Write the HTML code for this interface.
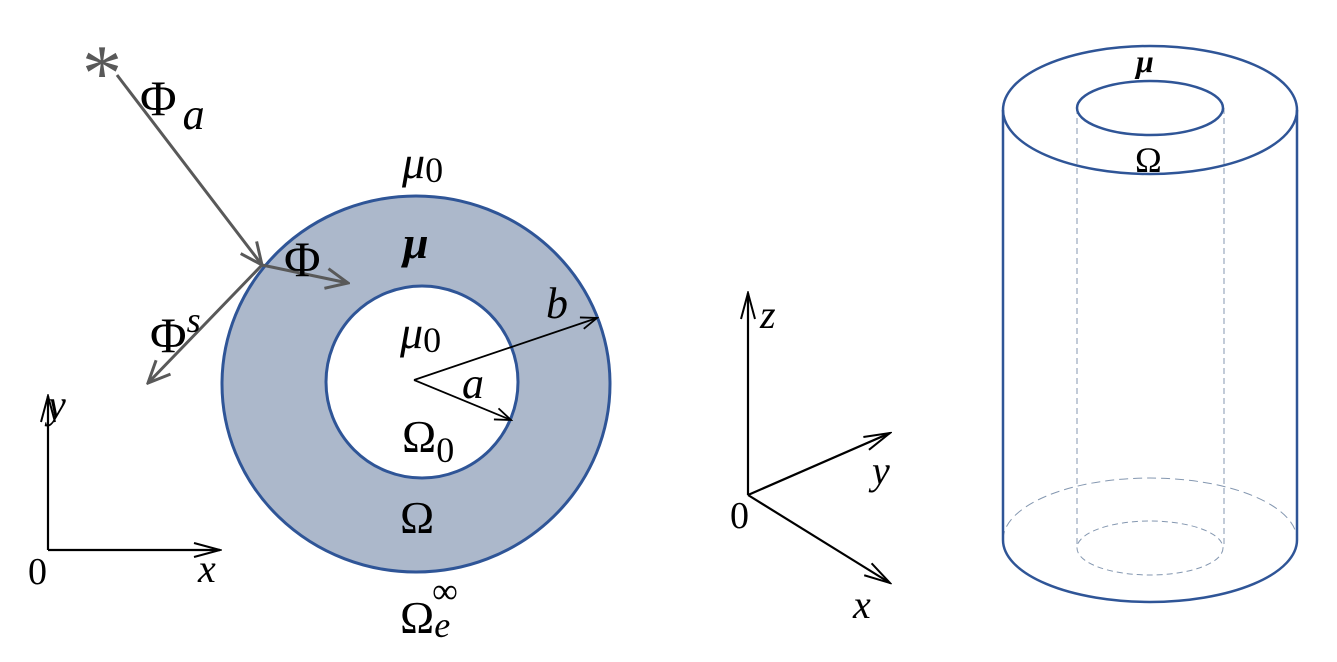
<!DOCTYPE html>
<html><head><meta charset="utf-8"><style>
body{margin:0;background:#fff}
svg text{font-family:"Liberation Serif","DejaVu Serif",serif;fill:#000}
</style></head><body>
<svg width="1337" height="657" viewBox="0 0 1337 657" xmlns="http://www.w3.org/2000/svg">
<defs>
<marker id="ab" markerWidth="30" markerHeight="16" refX="28" refY="8" orient="auto" markerUnits="userSpaceOnUse"><path d="M2,1 L28,8 L2,15" fill="none" stroke="#000" stroke-width="2"/></marker>
<marker id="ab2" markerWidth="20" markerHeight="14" refX="18" refY="7" orient="auto" markerUnits="userSpaceOnUse"><path d="M2,1 L18,7 L2,13" fill="none" stroke="#000" stroke-width="1.8"/></marker>
<marker id="ag" markerWidth="26" markerHeight="24" refX="24" refY="12" orient="auto" markerUnits="userSpaceOnUse"><path d="M2,2 L24,12 L2,22" fill="none" stroke="#595959" stroke-width="3"/></marker>
</defs>
<ellipse cx="416" cy="384" rx="194" ry="188" fill="#acb8cb" stroke="#2f5597" stroke-width="3"/>
<circle cx="422" cy="382" r="96" fill="#fff" stroke="#2f5597" stroke-width="3"/>
<line x1="414" y1="380" x2="597" y2="318" stroke="#000" stroke-width="1.8" marker-end="url(#ab2)"/>
<line x1="414" y1="380" x2="511" y2="420" stroke="#000" stroke-width="1.8" marker-end="url(#ab2)"/>
<text x="82" y="100" font-size="80" style="fill:#595959">*</text>
<line x1="117" y1="75" x2="262" y2="265" stroke="#595959" stroke-width="3" marker-end="url(#ag)"/>
<line x1="262" y1="265" x2="348" y2="283" stroke="#595959" stroke-width="3" marker-end="url(#ag)"/>
<line x1="262" y1="265" x2="148" y2="383" stroke="#595959" stroke-width="3" marker-end="url(#ag)"/>
<text x="140" y="115" font-size="50">Φ<tspan font-style="italic" font-size="44" dy="14" dx="6">a</tspan></text>
<text x="284" y="276" font-size="50">Φ</text>
<text x="150" y="352" font-size="50">Φ<tspan font-style="italic" font-size="36" dy="-20">s</tspan></text>
<text x="402" y="178" font-size="46" font-style="italic">μ<tspan font-style="normal" font-size="36" dy="4">0</tspan></text>
<text x="403" y="258" font-size="46" font-style="italic" font-weight="bold">μ</text>
<text x="400" y="348" font-size="46" font-style="italic">μ<tspan font-style="normal" font-size="36" dy="4">0</tspan></text>
<text x="546" y="318" font-size="44" font-style="italic">b</text>
<text x="462" y="398" font-size="44" font-style="italic">a</text>
<text x="402" y="452" font-size="46">Ω<tspan font-size="36" dy="10">0</tspan></text>
<text x="400" y="533" font-size="46">Ω</text>
<text x="400" y="633" font-size="46">Ω<tspan font-style="italic" font-size="36" dy="4">e</tspan><tspan font-size="36" dx="-18" dy="-34">∞</tspan></text>
<line x1="48" y1="550" x2="48" y2="396" stroke="#000" stroke-width="2.2" marker-end="url(#ab)"/>
<line x1="48" y1="550" x2="220" y2="550" stroke="#000" stroke-width="2.2" marker-end="url(#ab)"/>
<text x="48" y="418" font-size="40" font-style="italic">y</text>
<text x="198" y="582" font-size="40" font-style="italic">x</text>
<text x="28" y="584" font-size="38">0</text>
<line x1="748" y1="495" x2="748" y2="293" stroke="#000" stroke-width="2.2" marker-end="url(#ab)"/>
<line x1="748" y1="495" x2="890" y2="433" stroke="#000" stroke-width="2.2" marker-end="url(#ab)"/>
<line x1="748" y1="495" x2="890" y2="583" stroke="#000" stroke-width="2.2" marker-end="url(#ab)"/>
<text x="760" y="328" font-size="40" font-style="italic">z</text>
<text x="872" y="484" font-size="40" font-style="italic">y</text>
<text x="853" y="618" font-size="40" font-style="italic">x</text>
<text x="730" y="528" font-size="38">0</text>
<line x1="1077" y1="108" x2="1077" y2="548" stroke="#8497b0" stroke-width="1" stroke-dasharray="6,4"/>
<line x1="1224" y1="108" x2="1224" y2="548" stroke="#8497b0" stroke-width="1" stroke-dasharray="6,4"/>
<path d="M1003,540 A147,62 0 0 1 1297,540" fill="none" stroke="#8497b0" stroke-width="1" stroke-dasharray="9,5"/>
<ellipse cx="1150" cy="548" rx="73" ry="27" fill="none" stroke="#8497b0" stroke-width="1" stroke-dasharray="6,4"/>
<path d="M1003,540 A147,62 0 0 0 1297,540" fill="none" stroke="#2f5597" stroke-width="2.5"/>
<line x1="1003" y1="110" x2="1003" y2="540" stroke="#2f5597" stroke-width="2.5"/>
<line x1="1297" y1="110" x2="1297" y2="540" stroke="#2f5597" stroke-width="2.5"/>
<ellipse cx="1150" cy="110" rx="147" ry="64" fill="none" stroke="#2f5597" stroke-width="2.5"/>
<ellipse cx="1150" cy="108" rx="73" ry="27" fill="none" stroke="#2f5597" stroke-width="2.5"/>
<text x="1136" y="72" font-size="32" font-style="italic" font-weight="bold">μ</text>
<text x="1135" y="172" font-size="36">Ω</text>
</svg>
</body></html>
